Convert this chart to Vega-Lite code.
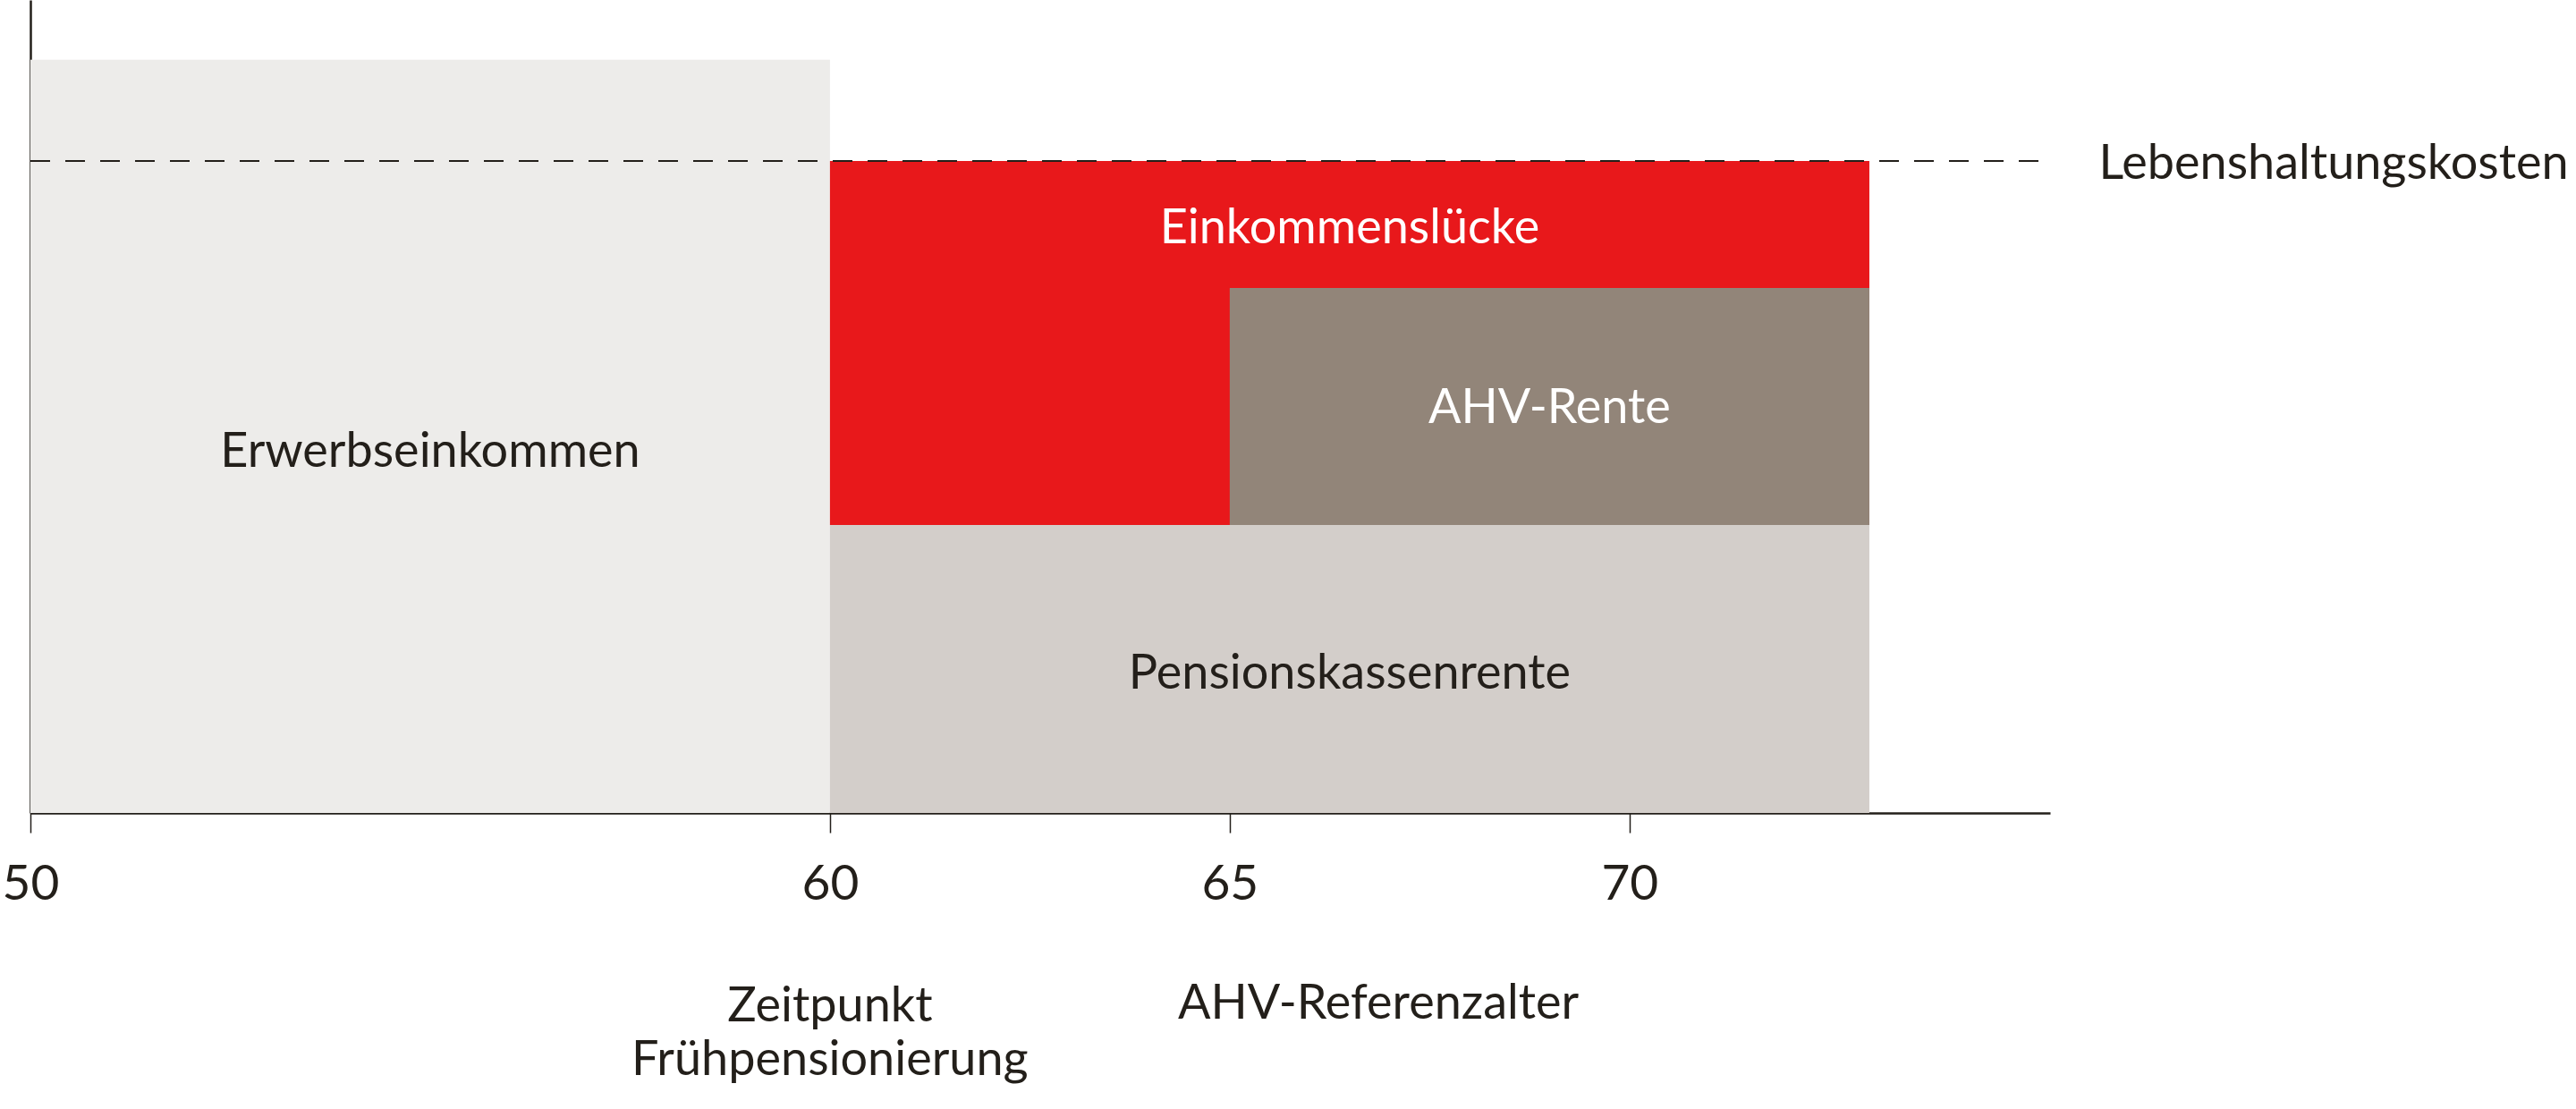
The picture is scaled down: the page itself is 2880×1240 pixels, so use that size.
{
  "$schema": "https://vega.github.io/schema/vega-lite/v6.json",
  "width": 2258,
  "height": 909,
  "autosize": {"type": "none"},
  "padding": {"left": 34, "top": 0, "right": 588, "bottom": 331},
  "background": "white",
  "config": {"view": {"stroke": null}, "font": "Lato"},
  "datasets": {
    "blocks": [
      {"component": "Erwerbseinkommen", "start": 50, "end": 60, "low": 0, "high": 92.66},
      {"component": "Pensionskassenrente", "start": 60, "end": 73, "low": 0, "high": 35.42},
      {"component": "Einkommenslücke", "start": 60, "end": 73, "low": 35.42, "high": 80.2},
      {"component": "AHV-Rente", "start": 65, "end": 73, "low": 35.42, "high": 64.58}
    ],
    "cost": [
      {"name": "Lebenshaltungskosten", "start": 50, "end": 75.26, "level": 80.2}
    ],
    "labels": [
      {"text": ["Erwerbseinkommen"], "age": 55.0, "value": 42.57, "kind": "dark"},
      {"text": ["Pensionskassenrente"], "age": 66.5, "value": 15.29, "kind": "dark"},
      {"text": ["Einkommenslücke"], "age": 66.5, "value": 70.08, "kind": "light"},
      {"text": ["AHV-Rente"], "age": 69.0, "value": 47.96, "kind": "light"},
      {"text": ["Zeitpunkt", "Frühpensionierung"], "age": 60, "value": -25.63, "kind": "dark"},
      {"text": ["AHV-Referenzalter"], "age": 66.86, "value": -25.3, "kind": "dark"},
      {"text": ["Lebenshaltungskosten"], "age": 75.87, "value": 78.0, "kind": "side"}
    ]
  },
  "layer": [
    {
      "data": {"name": "blocks"},
      "mark": {"type": "rect"},
      "encoding": {
        "x": {
          "field": "start", "type": "quantitative",
          "scale": {"domain": [50, 75.26], "nice": false, "zero": false},
          "axis": {
            "values": [50, 60, 65, 70], "format": "d", "title": null, "grid": false,
            "domainColor": "#231F1A", "domainWidth": 2.5,
            "tickColor": "#231F1A", "tickWidth": 1.5, "tickSize": 22,
            "labelFont": "Lato", "labelFontSize": 55, "labelColor": "#231F1A",
            "labelBaseline": "alphabetic", "labelPadding": 74, "labelFlush": false, "labelOverlap": false
          }
        },
        "x2": {"field": "end"},
        "y": {
          "field": "low", "type": "quantitative",
          "scale": {"domain": [0, 100], "nice": false},
          "axis": {"title": null, "ticks": false, "labels": false, "grid": false, "domainColor": "#231F1A", "domainWidth": 2.5}
        },
        "y2": {"field": "high"},
        "color": {
          "field": "component", "type": "nominal", "legend": null,
          "scale": {
            "domain": ["Erwerbseinkommen", "Pensionskassenrente", "Einkommenslücke", "AHV-Rente"],
            "range": ["#EDECEA", "#D3CECA", "#E8181B", "#928579"]
          }
        }
      }
    },
    {
      "data": {"name": "cost"},
      "mark": {"type": "rule", "color": "#231F1A", "strokeWidth": 2.2, "strokeDash": [22, 17]},
      "encoding": {
        "x": {"field": "start", "type": "quantitative"},
        "x2": {"field": "end"},
        "y": {"field": "level", "type": "quantitative"}
      }
    },
    {
      "data": {"name": "labels"},
      "transform": [{"filter": "datum.kind === 'dark'"}],
      "mark": {"type": "text", "align": "center", "baseline": "alphabetic", "fontSize": 54, "lineHeight": 60, "color": "#231F1A", "font": "Lato"},
      "encoding": {
        "x": {"field": "age", "type": "quantitative"},
        "y": {"field": "value", "type": "quantitative"},
        "text": {"field": "text"}
      }
    },
    {
      "data": {"name": "labels"},
      "transform": [{"filter": "datum.kind === 'light'"}],
      "mark": {"type": "text", "align": "center", "baseline": "alphabetic", "fontSize": 54, "color": "#FFFFFF", "font": "Lato"},
      "encoding": {
        "x": {"field": "age", "type": "quantitative"},
        "y": {"field": "value", "type": "quantitative"},
        "text": {"field": "text"}
      }
    },
    {
      "data": {"name": "labels"},
      "transform": [{"filter": "datum.kind === 'side'"}],
      "mark": {"type": "text", "align": "left", "baseline": "alphabetic", "fontSize": 54, "color": "#231F1A", "font": "Lato"},
      "encoding": {
        "x": {"field": "age", "type": "quantitative"},
        "y": {"field": "value", "type": "quantitative"},
        "text": {"field": "text"}
      }
    }
  ]
}
